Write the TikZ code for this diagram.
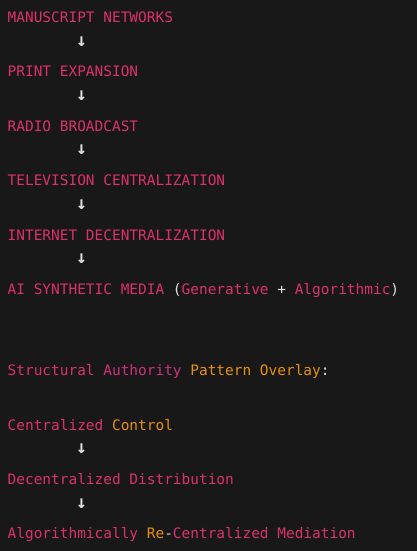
\documentclass[tikz,border=0pt]{standalone}
\usepackage{fontspec}
\setmonofont{DejaVu Sans Mono}
\usepackage{tikz}
\usetikzlibrary{positioning}
\definecolor{editorbg}{HTML}{181818}
\definecolor{keypink}{HTML}{DC306C}
\definecolor{keyplum}{HTML}{CF2F7C}
\definecolor{keyorange}{HTML}{E6900C}
\definecolor{plaintext}{HTML}{E0E0E0}
\tikzset{codeline/.style={anchor=base west,inner sep=0pt,text=keypink,
font=\ttfamily\fontsize{14.45pt}{16pt}\selectfont}}
\tikzset{downarrow/.style={anchor=base,inner sep=0pt,text=plaintext,
font=\ttfamily\bfseries\fontsize{18pt}{20pt}\selectfont}}
\newcommand{\og}[1]{\textcolor{keyorange}{#1}}
\newcommand{\pl}[1]{\textcolor{plaintext}{#1}}

\begin{document}
\begin{tikzpicture}[x=1pt,y=1pt]
        \fill[editorbg] (0,0) rectangle (417,-551);
        \useasboundingbox (0,0) rectangle (417,-551);

        % media history chain
        \node[codeline] (lineA) at (7.5,-22.7) {MANUSCRIPT NETWORKS};
        \node[downarrow] (arrA) at ([yshift=-23.6pt,xshift=74.1pt]lineA.base west) {↓};
        \node[codeline] (lineB) at (7.5,-77.0) {PRINT EXPANSION};
        \node[downarrow] (arrB) at ([yshift=-23.6pt,xshift=74.1pt]lineB.base west) {↓};
        \node[codeline] (lineC) at (7.5,-131.3) {RADIO BROADCAST};
        \node[downarrow] (arrC) at ([yshift=-23.6pt,xshift=74.1pt]lineC.base west) {↓};
        \node[codeline] (lineD) at (7.5,-185.7) {TELEVISION CENTRALIZATION};
        \node[downarrow] (arrD) at ([yshift=-23.6pt,xshift=74.1pt]lineD.base west) {↓};
        \node[codeline] (lineE) at (7.5,-240.0) {INTERNET DECENTRALIZATION};
        \node[downarrow] (arrE) at ([yshift=-23.6pt,xshift=74.1pt]lineE.base west) {↓};
        \node[codeline] (lineF) at (7.5,-294.3) {AI SYNTHETIC MEDIA \pl{(}Generative \pl{+} Algorithmic\pl{)}};

        % overlay heading
        \node[codeline] (overlay) at (7.5,-375.8) {Structural \textcolor{keyplum}{Authority} \og{Pattern Overlay}\pl{:}};

        % authority pattern chain
        \node[codeline] (patA) at (7.5,-430.1) {Centralized \og{Control}};
        \node[downarrow] (arrP) at ([yshift=-23.6pt,xshift=74.1pt]patA.base west) {↓};
        \node[codeline] (patB) at (7.5,-484.4) {Decentralized Distribution};
        \node[downarrow] (arrQ) at ([yshift=-23.6pt,xshift=74.1pt]patB.base west) {↓};
        \node[codeline] (patC) at (7.5,-538.7) {Algorithmically \og{Re}\pl{-}Centralized Mediation};

    \end{tikzpicture}
\end{document}
